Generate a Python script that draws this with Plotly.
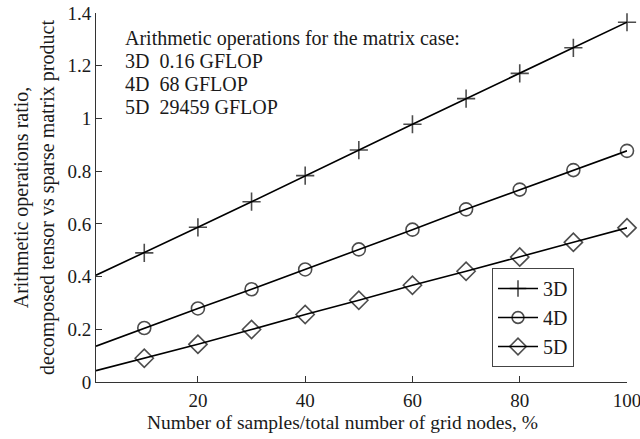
import plotly.graph_objects as go

# Sample share (% of grid nodes); the first point sits on the left axis edge
samples_pct = [1, 10, 20, 30, 40, 50, 60, 70, 80, 90, 100]

# Arithmetic-operations ratio, decomposed tensor vs sparse matrix product
ratio_3d = [0.405, 0.490, 0.587, 0.684, 0.783, 0.880, 0.978, 1.075, 1.171, 1.268, 1.365]
ratio_4d = [0.136, 0.205, 0.279, 0.352, 0.427, 0.503, 0.578, 0.655, 0.730, 0.804, 0.877]
ratio_5d = [0.043, 0.090, 0.143, 0.199, 0.256, 0.310, 0.367, 0.420, 0.474, 0.530, 0.585]

series_names = ["3D", "4D", "5D"]
series_symbols = ["cross-thin-open", "circle-open", "diamond-open"]
series_sizes = [13, 13, 14]

x_ticks = [20, 40, 60, 80, 100]
y_ticks = [0, 0.2, 0.4, 0.6, 0.8, 1.0, 1.2, 1.4]
y_tick_text = ["0", "0.2", "0.4", "0.6", "0.8", "1", "1.2", "1.4"]

x_title = "Number of samples/total number of grid nodes, %"
y_title = "Arithmetic operations ratio,<br>decomposed tensor vs sparse matrix product"

note_lines = [
    "Arithmetic operations for the matrix case:",
    "3D\u00a0\u00a00.16 GFLOP",
    "4D\u00a0\u00a068 GFLOP",
    "5D\u00a0\u00a029459 GFLOP",
]

FONT = "Liberation Serif, Times New Roman, serif"
INK = "#1a1a1a"

# plot-area geometry in pixels
W, H = 640, 439
L, R, T, B = 96, 13, 13, 57
PW, PH = W - L - R, H - T - B


def px_x(px):
    return (px - L) / PW


def px_y(py):
    return 1 - (py - T) / PH


fig = go.Figure()
for name, ys, sym, sz in zip(series_names, [ratio_3d, ratio_4d, ratio_5d],
                             series_symbols, series_sizes):
    # no marker at the axis-edge point
    sizes = [0] + [sz] * (len(samples_pct) - 1)
    fig.add_trace(go.Scatter(
        x=samples_pct, y=ys, name=name, mode="lines+markers",
        cliponaxis=False,
        line=dict(color="black", width=1.6),
        marker=dict(symbol=sym, size=sizes, color="black",
                    line=dict(color="black", width=1.6)),
    ))

# note block, one row per line
for i, txt in enumerate(note_lines):
    fig.add_annotation(
        x=px_x(123), y=px_y(38 + i * 23), xref="paper", yref="paper",
        text=txt, showarrow=False, xanchor="left", yanchor="middle",
        font=dict(family=FONT, size=20, color=INK),
    )

# x-axis caption
fig.add_annotation(
    x=px_x(342), y=px_y(422), xref="paper", yref="paper",
    text=x_title, showarrow=False, xanchor="center", yanchor="middle",
    font=dict(family=FONT, size=19.5, color=INK),
)

fig.update_layout(
    width=W, height=H,
    margin=dict(l=L, r=R, t=T, b=B, autoexpand=False),
    paper_bgcolor="white", plot_bgcolor="white",
    font=dict(family=FONT, size=20, color=INK),
    showlegend=True,
    legend=dict(
        x=px_x(492), y=px_y(268),
        xanchor="left", yanchor="top",
        bgcolor="white", bordercolor="#444", borderwidth=1,
        font=dict(family=FONT, size=20, color=INK),
        itemwidth=40, tracegroupgap=0, entrywidth=77,
    ),
    xaxis=dict(
        range=[1, 100], tickvals=x_ticks, ticks="inside", ticklen=6,
        tickcolor="#333", showline=True, linecolor="#333", linewidth=1,
        showgrid=False, zeroline=False, mirror=False, automargin=False,
        ticklabeloverflow="allow", ticklabelstandoff=1,
        tickfont=dict(family=FONT, size=19, color=INK),
    ),
    yaxis=dict(
        range=[0, 1.4], tickvals=y_ticks, ticktext=y_tick_text,
        ticks="inside", ticklen=6, tickcolor="#333",
        showline=True, linecolor="#333", linewidth=1,
        showgrid=False, zeroline=False, mirror=False, automargin=False,
        tickfont=dict(family=FONT, size=19, color=INK),
        title=dict(text=y_title, standoff=7,
                   font=dict(family=FONT, size=20, color=INK)),
    ),
)

fig.write_html("out.html")
